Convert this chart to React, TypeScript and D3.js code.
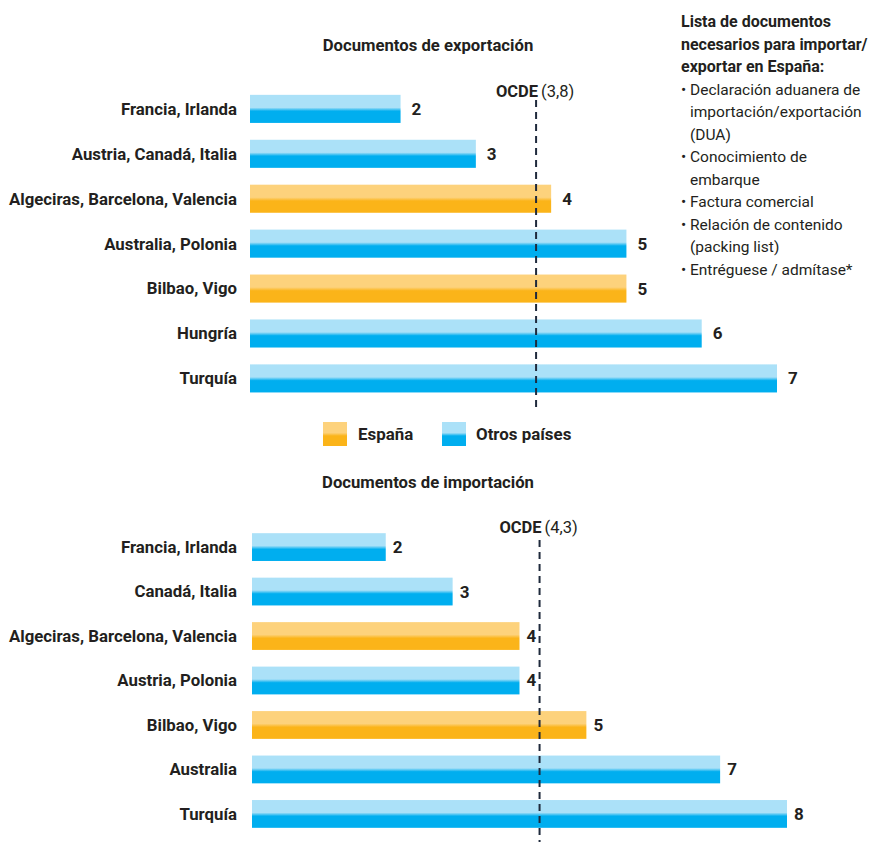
import React from "react";
import * as d3 from "d3";

const expCategories = ["Francia, Irlanda", "Austria, Canadá, Italia", "Algeciras, Barcelona, Valencia", "Australia, Polonia", "Bilbao, Vigo", "Hungría", "Turquía"];
const expValues = [2, 3, 4, 5, 5, 6, 7];
const expSpain = [false, false, true, false, true, false, false];
const expOcde = 3.8;
const expOcdeLabel = "(3,8)";

const impCategories = ["Francia, Irlanda", "Canadá, Italia", "Algeciras, Barcelona, Valencia", "Austria, Polonia", "Bilbao, Vigo", "Australia", "Turquía"];
const impValues = [2, 3, 4, 4, 5, 7, 8];
const impSpain = [false, false, true, false, true, false, false];
const impOcde = 4.3;
const impOcdeLabel = "(4,3)";

const legendLabels = ["España", "Otros países"];
const sideHeader = ["Lista de documentos", "necesarios para importar/", "exportar en España:"];
const sideLines: [boolean, string][] = [
  [true, "Declaración aduanera de"],
  [false, "importación/exportación"],
  [false, "(DUA)"],
  [true, "Conocimiento de"],
  [false, "embarque"],
  [true, "Factura comercial"],
  [true, "Relación de contenido"],
  [false, "(packing list)"],
  [true, "Entréguese / admítase*"],
];

const TXT = "#231f20";
const FONT = "Roboto, 'Noto Sans', sans-serif";

function Grad({ id, light, dark }: { id: string; light: string; dark: string }) {
  return (
    <linearGradient id={id} x1="0" y1="0" x2="0" y2="1">
      <stop offset="0" stopColor={light} />
      <stop offset="0.45" stopColor={light} />
      <stop offset="0.58" stopColor={dark} />
      <stop offset="1" stopColor={dark} />
    </linearGradient>
  );
}

function Panel({
  title, titleY, cats, vals, spain, ocde, ocdeLabel, x0, x1, maxV, y0, y1, lineTop, lineBottom, ocdeY, gap,
}: any) {
  const x = d3.scaleLinear().domain([0, maxV]).range([x0, x1]);
  const y = d3.scaleBand<string>().domain(cats).range([y0, y1]).paddingInner(0.375).paddingOuter(0.375);
  const bw = y.bandwidth();
  return (
    <g>
      <text x={428} y={titleY} textAnchor="middle" fontWeight={700} fontSize={16.7} fill={TXT}>{title}</text>
      {cats.map((c: string, i: number) => {
        const yy = y(c)!;
        return (
          <g key={c}>
            <text x={237} y={yy + bw / 2} dy="0.35em" textAnchor="end" fontWeight={700} fontSize={16.8} fill={TXT}>{c}</text>
            <rect x={x(0)} y={yy} width={x(vals[i]) - x(0)} height={bw} fill={spain[i] ? "url(#gOr)" : "url(#gBl)"} />
          </g>
        );
      })}
      <line x1={x(ocde)} x2={x(ocde)} y1={lineTop} y2={lineBottom} stroke="#1f2a3c" strokeWidth={2} strokeDasharray="7,5" />
      {cats.map((c: string, i: number) => {
        const yy = y(c)!;
        return (
          <text key={c + "v"} x={x(vals[i]) + gap} y={yy + bw / 2} dy="0.35em" fontWeight={700} fontSize={17} fill={TXT}>{vals[i]}</text>
        );
      })}
      <text x={x(ocde) - 1} y={ocdeY} textAnchor="middle" fontSize={16.5} fill={TXT}>
        <tspan fontWeight={700}>OCDE</tspan>
        <tspan dx={3}>{ocdeLabel}</tspan>
      </text>
    </g>
  );
}

export default function App() {
  return (
    <svg width={870} height={842} style={{ position: "absolute", left: 0, top: 0 }} fontFamily={FONT}>
      <defs>
        <Grad id="gBl" light="#abe1f8" dark="#00aeef" />
        <Grad id="gOr" light="#fdd27c" dark="#fbb419" />
      </defs>
      <rect width={870} height={842} fill="#fff" />
      <Panel title="Documentos de exportación" titleY={51} cats={expCategories} vals={expValues} spain={expSpain}
        ocde={expOcde} ocdeLabel={expOcdeLabel} x0={250} x1={777} maxV={7} y0={78} y1={409.3}
        lineTop={100} lineBottom={411} ocdeY={97} gap={11} />
      <Panel title="Documentos de importación" titleY={488} cats={impCategories} vals={impValues} spain={impSpain}
        ocde={impOcde} ocdeLabel={impOcdeLabel} x0={252} x1={787} maxV={8} y0={516.5} y1={844.5}
        lineTop={540} lineBottom={842} ocdeY={533} gap={7} />
      {/* legend */}
      <g>
        <rect x={323} y={422} width={24} height={24} fill="url(#gOr)" />
        <text x={358} y={434} dy="0.35em" fontWeight={700} fontSize={16.9} fill={TXT}>{legendLabels[0]}</text>
        <rect x={442} y={422} width={24} height={24} fill="url(#gBl)" />
        <text x={476} y={434} dy="0.35em" fontWeight={700} fontSize={16.9} fill={TXT}>{legendLabels[1]}</text>
      </g>
      {/* side notes */}
      <g fill={TXT}>
        {sideHeader.map((t, i) => (
          <text key={t} x={681} y={27 + i * 22.5} fontWeight={700} fontSize={16}>{t}</text>
        ))}
        {sideLines.map(([b, t], i) => (
          <g key={t} fontSize={15.5}>
            {b && <text x={681} y={27 + (i + 3) * 22.5}>•</text>}
            <text x={690} y={27 + (i + 3) * 22.5}>{t}</text>
          </g>
        ))}
      </g>
    </svg>
  );
}
